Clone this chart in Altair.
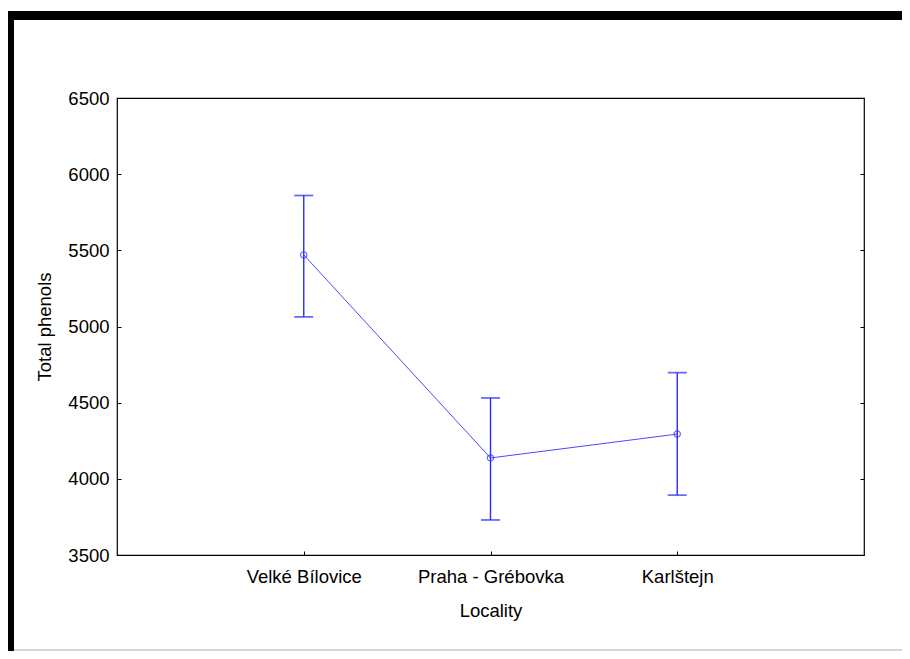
import altair as alt
import pandas as pd

localities = ["Velké Bílovice", "Praha - Grébovka", "Karlštejn"]
means = [5470, 4137, 4294]
upper = [5860, 4531, 4697]
lower = [5063, 3730, 3893]
y_ticks = [3500, 4000, 4500, 5000, 5500, 6000, 6500]

df = pd.DataFrame({"Locality": localities, "mean": means, "hi": upper, "lo": lower})

W, H = 747, 457
BLUE = "#2a2aff"
FONT = "Liberation Sans"
FS = 18.5

xscale = alt.Scale(type="point", padding=1, domain=localities)
yscale = alt.Scale(domain=[3500, 6500], nice=False, zero=False)

base = alt.Chart(df)

line = base.mark_line(color="#4a4aff", strokeWidth=1).encode(
    x=alt.X("Locality:N", scale=xscale, sort=localities,
            axis=alt.Axis(orient="bottom", title="Locality", labelAngle=0,
                          tickSize=0, labelPadding=12, domain=False, grid=False,
                          labelFont=FONT, labelFontSize=FS, labelColor="black",
                          titleFont=FONT, titleFontSize=FS, titleFontWeight="normal",
                          titleColor="black", titlePadding=16)),
    y=alt.Y("mean:Q", scale=yscale,
            axis=alt.Axis(orient="left", values=y_ticks, format="d", title="Total phenols",
                          tickSize=0, labelPadding=8, domain=False, grid=False,
                          labelFont=FONT, labelFontSize=FS, labelColor="black",
                          titleFont=FONT, titleFontSize=FS, titleFontWeight="normal",
                          titleColor="black", titlePadding=13)),
)

# inward ticks on left and bottom edges
points = base.mark_point(shape="circle", filled=False, color=BLUE, size=40, strokeWidth=1.2).encode(
    x=alt.X("Locality:N", scale=xscale, sort=localities,
            axis=alt.Axis(orient="top", offset=-H, labels=False, title=None,
                          tickSize=4, tickColor="black", tickWidth=1, domain=False, grid=False)),
    y=alt.Y("mean:Q", scale=yscale,
            axis=alt.Axis(orient="right", offset=-W, values=y_ticks, labels=False, title=None,
                          tickSize=4, tickColor="black", tickWidth=1, domain=False, grid=False)),
)

# inward ticks on right edge
rules = base.mark_rule(color=BLUE, strokeWidth=1.4).encode(
    x=alt.X("Locality:N", scale=xscale, sort=localities, axis=None),
    y=alt.Y("lo:Q", scale=yscale,
            axis=alt.Axis(orient="left", offset=-W, values=y_ticks, labels=False, title=None,
                          tickSize=4, tickColor="black", tickWidth=1, domain=False, grid=False)),
    y2="hi:Q",
)

cap_hi = base.mark_tick(color=BLUE, size=19, thickness=1.8).encode(
    x=alt.X("Locality:N", scale=xscale, sort=localities, axis=None),
    y=alt.Y("hi:Q", scale=yscale, axis=None),
)
cap_lo = base.mark_tick(color=BLUE, size=19, thickness=1.8).encode(
    x=alt.X("Locality:N", scale=xscale, sort=localities, axis=None),
    y=alt.Y("lo:Q", scale=yscale, axis=None),
)

frame_data = alt.Data(values=[{"k": 1}])
top_bar = alt.Chart(frame_data).mark_rect(color="black").encode(
    x=alt.value(-109), x2=alt.value(785), y=alt.value(-87), y2=alt.value(-78))
left_bar = alt.Chart(frame_data).mark_rect(color="black").encode(
    x=alt.value(-109), x2=alt.value(-103), y=alt.value(-87), y2=alt.value(553))
bottom_line = alt.Chart(frame_data).mark_rule(color="#c8c8c8", strokeWidth=1.5).encode(
    x=alt.value(-103), x2=alt.value(785), y=alt.value(552))

chart = alt.layer(line, points, rules, cap_hi, cap_lo, top_bar, left_bar, bottom_line).resolve_axis(
    x="independent", y="independent"
).properties(
    width=W, height=H,
    autosize=alt.AutoSizeParams(type="none"),
    padding={"left": 109, "top": 90, "right": 38, "bottom": 96},
    background="white",
).configure_view(stroke="black", strokeWidth=1.2)

chart.save("out.html", embed_options={"renderer": "svg", "actions": False})
